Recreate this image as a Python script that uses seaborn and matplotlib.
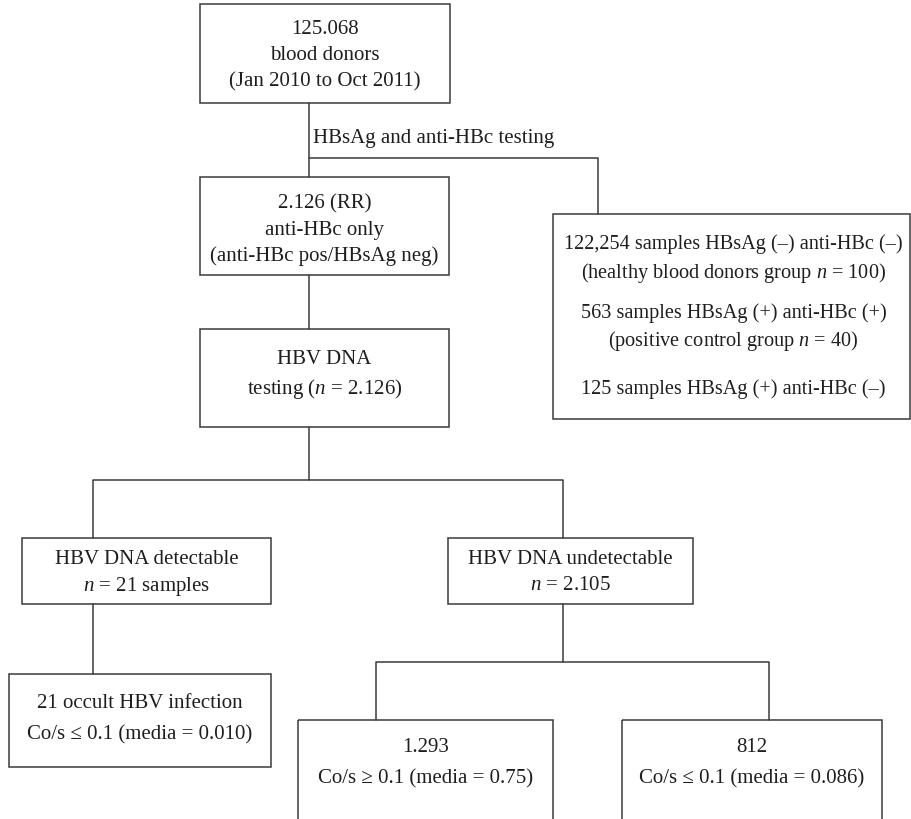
import matplotlib
matplotlib.use("Agg")
import pandas as pd
import seaborn as sns
import matplotlib.pyplot as plt
from matplotlib.patches import Rectangle

# ---- flowchart text ----
donors_lines = ["125.068", "blood donors", "(Jan 2010 to Oct 2011)"]
screening_label = "HBsAg and anti-HBc testing"
anti_hbc_lines = ["2.126 (RR)", "anti-HBc only", "(anti-HBc pos/HBsAg neg)"]
other_lines = ["122,254 samples HBsAg (\u2013) anti-HBc (\u2013)",
               "(healthy blood donors group $n$ = 100)",
               "563 samples HBsAg (+) anti-HBc (+)",
               "(positive control group $n$ = 40)",
               "125 samples HBsAg (+) anti-HBc (\u2013)"]
dna_lines = ["HBV DNA", "testing ($n$ = 2.126)"]
detect_lines = ["HBV DNA detectable", "$n$ = 21 samples"]
undetect_lines = ["HBV DNA undetectable", "$n$ = 2.105"]
occult_lines = ["21 occult HBV infection", "Co/s \u2264 0.1 (media = 0.010)"]
high_lines = ["1.293", "Co/s \u2265 0.1 (media = 0.75)"]
low_lines = ["812", "Co/s \u2264 0.1 (media = 0.086)"]

# ---- layout in pixel coords (x0, y0, x1, y1), y grows downward ----
boxes = {
    "donors":   ((200, 4, 450, 103),   donors_lines,   [30, 56, 82]),
    "antihbc":  ((200, 177, 449, 275), anti_hbc_lines, [204, 230, 256]),
    "other":    ((553, 214, 910, 419), other_lines,    [244, 273, 313, 341, 389]),
    "dna":      ((200, 329, 449, 427), dna_lines,      [360, 389]),
    "detect":   ((22, 538, 271, 604),  detect_lines,   [560, 586]),
    "undetect": ((448, 538, 693, 604), undetect_lines, [560, 586]),
    "occult":   ((9, 674, 271, 767),   occult_lines,   [704, 735]),
    "high":     ((298, 720, 553, 840), high_lines,     [748, 779]),
    "low":      ((622, 720, 882, 840), low_lines,      [748, 779]),
}

connectors = [
    [(309, 103), (309, 177)],
    [(309, 158), (598, 158), (598, 214)],
    [(309, 275), (309, 329)],
    [(309, 427), (309, 480)],
    [(93, 538), (93, 480), (563, 480), (563, 538)],
    [(93, 604), (93, 674)],
    [(563, 604), (563, 662)],
    [(376, 720), (376, 662), (769, 662), (769, 720)],
]

sns.set_theme(style="white")
plt.rcParams["font.family"] = ["Liberation Serif", "DejaVu Serif"]
plt.rcParams["mathtext.fontset"] = "custom"
plt.rcParams["mathtext.it"] = "Liberation Serif:italic"
plt.rcParams["mathtext.rm"] = "Liberation Serif"

line_col = "#3a3a3a"
text_col = "#1e1e1e"
fs = 15

fig = plt.figure(figsize=(9.12, 8.19), dpi=100)
ax = fig.add_axes([0, 0, 1, 1])

rows = []
for i, seg in enumerate(connectors):
    for k, (x, y) in enumerate(seg):
        rows.append({"seg": i, "order": k, "x": x, "y": y})
conn = pd.DataFrame(rows)
sns.lineplot(data=conn, x="x", y="y", units="seg", estimator=None, sort=False,
             color=line_col, linewidth=1.1, ax=ax)

for name, ((x0, y0, x1, y1), lines, ys) in boxes.items():
    ax.add_patch(Rectangle((x0, y0), x1 - x0, y1 - y0, fill=False,
                           edgecolor=line_col, linewidth=1.1))
    cx = (x0 + x1) / 2
    size = fs
    if name == "other":
        cx += 2
        size = 14.6
    for txt, yy in zip(lines, ys):
        ax.text(cx, yy, txt, ha="center", va="center", fontsize=size, color=text_col)

ax.text(313, 139, screening_label, ha="left", va="center", fontsize=fs, color=text_col)

ax.set_xlim(0, 912)
ax.set_ylim(819, 0)
ax.axis("off")

fig.savefig("out.png", dpi=100, facecolor="white")
